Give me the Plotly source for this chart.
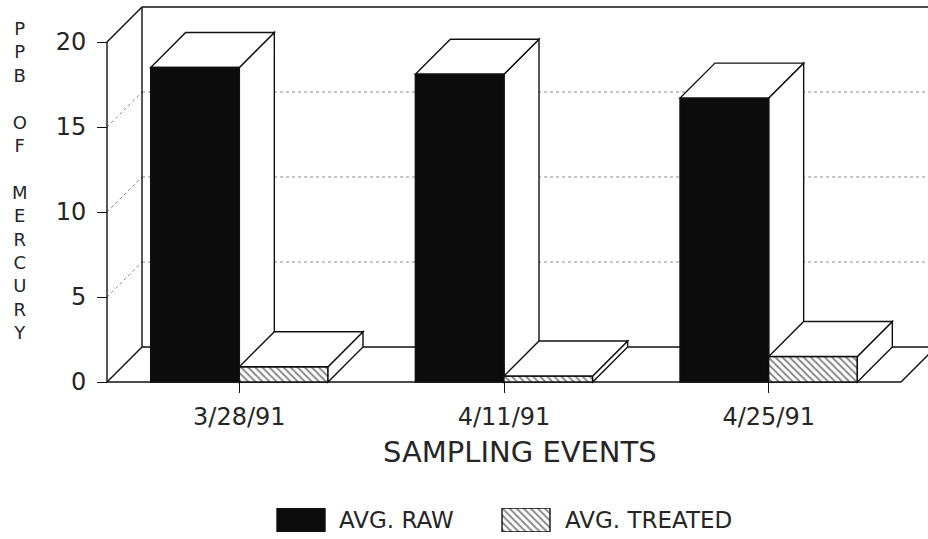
import plotly.graph_objects as go

# ---- data -------------------------------------------------------------
sampling_events = ["3/28/91", "4/11/91", "4/25/91"]
avg_raw = [18.5, 18.1, 16.7]
avg_treated = [0.9, 0.35, 1.5]
y_ticks = [0, 5, 10, 15, 20]
series_names = ["AVG. RAW", "AVG. TREATED"]
y_title_letters = ["P", "P", "B", " ", "O", "F", " ", "M", "E", "R", "C", "U", "R", "Y"]

# ---- page geometry (pixels) -------------------------------------------
W, H = 928, 539
FRONT_LEFT, FRONT_RIGHT = 107, 901     # front edge of the floor
FRONT_BOTTOM, FRONT_TOP = 382, 42      # value 0 and value 20 on the front plane
DEPTH = 35                             # oblique depth of the box
PAD = 6                                # room so edge lines are not clipped
Y_FRONT_MAX = 20
BAR_GAP = 0.33

FONT = "DejaVu Sans ExtraLight, DejaVu Sans, sans-serif"
INK = "#262626"
BOX_LINE = dict(color="#111111", width=1.4)
GRID_LINE = dict(color="#8c8c8c", width=1, dash="dot")
HATCH = dict(shape="\\", fgcolor="#111111", bgcolor="white", size=5, solidity=0.4)

n = len(sampling_events)
xs = list(range(n))
px_per_cat = (FRONT_RIGHT - FRONT_LEFT) / n
px_per_val = (FRONT_BOTTOM - FRONT_TOP) / Y_FRONT_MAX
dx = DEPTH / px_per_cat
dy = DEPTH / px_per_val

plot_l, plot_r = FRONT_LEFT - PAD, W
plot_t, plot_b = FRONT_TOP - DEPTH - PAD, FRONT_BOTTOM + PAD

x_lo = -0.5 - (FRONT_LEFT - plot_l) / px_per_cat
x_hi = -0.5 + (plot_r - FRONT_LEFT) / px_per_cat
y_lo = -(plot_b - FRONT_BOTTOM) / px_per_val
y_hi = (FRONT_BOTTOM - plot_t) / px_per_val


def fx(px):
    return px / W


def fy(py):
    return 1 - py / H


shapes = []


def seg(x0, y0, x1, y1, line, layer="below"):
    shapes.append(dict(type="line", xref="x", yref="y", x0=x0, y0=y0,
                       x1=x1, y1=y1, line=line, layer=layer))


def face(points, layer):
    path = "M" + "L".join(f"{x},{y}" for x, y in points) + "Z"
    shapes.append(dict(type="path", xref="x", yref="y", path=path,
                       fillcolor="white", line=BOX_LINE, layer=layer))


x_left = -0.5
x_right = n - 0.5
far = x_hi + 1

# dotted grid on the side wall and back wall
for v in y_ticks[1:-1]:
    seg(x_left, v, x_left + dx, v + dy, GRID_LINE)
    seg(x_left + dx, v + dy, far, v + dy, GRID_LINE)

# box edges: side wall, back wall, floor
seg(x_left, 0, x_left, Y_FRONT_MAX, BOX_LINE)
seg(x_left, Y_FRONT_MAX, x_left + dx, Y_FRONT_MAX + dy, BOX_LINE)
seg(x_left, 0, x_left + dx, dy, BOX_LINE)
seg(x_left + dx, dy, x_left + dx, Y_FRONT_MAX + dy, BOX_LINE)
seg(x_left + dx, Y_FRONT_MAX + dy, far, Y_FRONT_MAX + dy, BOX_LINE)
seg(x_left + dx, dy, x_right + dx, dy, BOX_LINE)
seg(x_left, 0, x_right, 0, BOX_LINE)
seg(x_right, 0, x_right + dx, dy, BOX_LINE)
seg(x_right + dx, dy, x_right + dx, Y_FRONT_MAX + dy, BOX_LINE)

# top and side faces of each bar, computed from the bar values
bar_w = (1 - BAR_GAP) / 2
for values, shift, layer in ((avg_raw, -bar_w, "below"), (avg_treated, 0.0, "above")):
    for c, v in zip(xs, values):
        x0 = c + shift
        x1 = x0 + bar_w
        face([(x1, 0), (x1, v), (x1 + dx, v + dy), (x1 + dx, dy)], layer)
        face([(x0, v), (x1, v), (x1 + dx, v + dy), (x0 + dx, v + dy)], layer)

fig = go.Figure()

fig.add_trace(go.Bar(
    x=xs, y=avg_raw, name=series_names[0],
    marker=dict(color="#0c0c0c", line=BOX_LINE),
    showlegend=False,
))
fig.add_trace(go.Bar(
    x=xs, y=avg_treated, name=series_names[1],
    marker=dict(color="white", line=BOX_LINE, pattern=HATCH),
    showlegend=False,
))

# legend keys drawn on a small helper axis below the chart
KEY_LEFT = [277, 502]
KEY_W = 48
KEY_TOP, KEY_BOTTOM = 508, 532
key_styles = [
    dict(color="#0c0c0c", line=BOX_LINE),
    dict(color="white", line=BOX_LINE, pattern=HATCH),
]
for left, style, name in zip(KEY_LEFT, key_styles, series_names):
    fig.add_trace(go.Bar(
        x=[left], y=[1], width=[KEY_W], offset=0, base=0, name=name,
        marker=style, xaxis="x2", yaxis="y2", showlegend=False, hoverinfo="skip",
    ))

annotations = []
LEGEND_TEXT_LEFT = [337, 563]
for left, name in zip(LEGEND_TEXT_LEFT, series_names):
    annotations.append(dict(
        x=fx(left), y=fy((KEY_TOP + KEY_BOTTOM) / 2), xref="paper", yref="paper",
        text=name, showarrow=False, xanchor="left", yanchor="middle",
        font=dict(family=FONT, size=23, color=INK),
    ))

annotations.append(dict(
    x=fx(520), y=fy(452), xref="paper", yref="paper", text="SAMPLING EVENTS",
    showarrow=False, xanchor="center", yanchor="middle",
    font=dict(family=FONT, size=29, color=INK),
))

# stacked vertical axis title, one letter per line
annotations.append(dict(
    x=fx(20), y=fy(16), xref="paper", yref="paper",
    text="<br>".join(y_title_letters), showarrow=False,
    xanchor="center", yanchor="top", align="center",
    font=dict(family=FONT, size=18, color=INK),
))

fig.update_layout(
    width=W, height=H,
    margin=dict(l=0, r=0, t=0, b=0),
    paper_bgcolor="white", plot_bgcolor="rgba(0,0,0,0)",
    barmode="group", bargap=BAR_GAP, bargroupgap=0,
    shapes=shapes, annotations=annotations,
    font=dict(family=FONT, color=INK),
    xaxis=dict(
        domain=[fx(plot_l), fx(plot_r)], range=[x_lo, x_hi],
        anchor="free", position=fy(FRONT_BOTTOM),
        tickvals=xs, ticktext=sampling_events,
        ticks="outside", ticklen=10, tickwidth=1.2, tickcolor="#111111",
        tickfont=dict(family=FONT, size=24, color=INK), ticklabelstandoff=3,
        showgrid=False, zeroline=False, showline=False, automargin=False,
        fixedrange=True,
    ),
    yaxis=dict(
        domain=[fy(plot_b), fy(plot_t)], range=[y_lo, y_hi],
        anchor="free", position=fx(FRONT_LEFT),
        tickvals=y_ticks, ticks="outside", ticklen=10, tickwidth=1.2,
        tickcolor="#111111", tickfont=dict(family=FONT, size=24, color=INK),
        ticklabelstandoff=6,
        showgrid=False, zeroline=False, showline=False, automargin=False,
        fixedrange=True,
    ),
    xaxis2=dict(domain=[0, 1], range=[0, W], anchor="y2", visible=False, fixedrange=True),
    yaxis2=dict(domain=[fy(KEY_BOTTOM), fy(KEY_TOP)], range=[0, 1], anchor="x2",
                visible=False, fixedrange=True),
)

fig.write_html("out.html")
